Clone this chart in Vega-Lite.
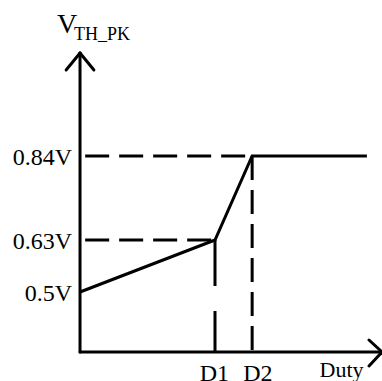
{
  "$schema": "https://vega.github.io/schema/vega-lite/v6.json",
  "width": 382,
  "height": 381,
  "padding": 0,
  "autosize": {"type": "none"},
  "background": "white",
  "config": {"view": {"stroke": null}},
  "datasets": {
    "axes": [
      {"x": 0, "y": 0.35, "x2": 0, "y2": 1.0975},
      {"x": -0.046, "y": 1.055, "x2": 0, "y2": 1.0975},
      {"x": 0.046, "y": 1.055, "x2": 0, "y2": 1.0975},
      {"x": 0, "y": 0.35, "x2": 1.0, "y2": 0.35},
      {"x": 0.957, "y": 0.38, "x2": 1.0, "y2": 0.35},
      {"x": 0.957, "y": 0.315, "x2": 1.0, "y2": 0.35}
    ],
    "curve": [
      {"duty": 0, "v": 0.5},
      {"duty": 0.447, "v": 0.63},
      {"duty": 0.57, "v": 0.84},
      {"duty": 0.95, "v": 0.84}
    ],
    "guides": [
      {"kind": "h", "x": 0.017, "y": 0.84, "x2": 0.57, "y2": 0.84},
      {"kind": "h", "x": 0.017, "y": 0.63, "x2": 0.447, "y2": 0.63},
      {"kind": "d2", "x": 0.57, "y": 0.84, "x2": 0.57, "y2": 0.35},
      {"kind": "d1", "x": 0.447, "y": 0.63, "x2": 0.447, "y2": 0.35}
    ],
    "ylabels": [
      {"v": 0.84, "label": "0.84V"},
      {"v": 0.63, "label": "0.63V"},
      {"v": 0.5, "label": "0.5V"}
    ],
    "xlabels": [
      {"duty": 0.445, "label": "D1"},
      {"duty": 0.589, "label": "D2"}
    ]
  },
  "layer": [
    {
      "data": {"name": "axes"},
      "mark": {"type": "rule", "color": "black", "strokeWidth": 3, "strokeCap": "round"},
      "encoding": {
        "x": {"field": "x", "type": "quantitative", "scale": {"domain": [-0.265, 1.0], "nice": false, "zero": false}, "axis": null},
        "y": {"field": "y", "type": "quantitative", "scale": {"domain": [0.2775, 1.23], "nice": false, "zero": false}, "axis": null},
        "x2": {"field": "x2"},
        "y2": {"field": "y2"}
      }
    },
    {
      "data": {"name": "guides"},
      "transform": [{"filter": "datum.kind != 'd1'"}],
      "mark": {"type": "rule", "color": "black", "strokeWidth": 3, "strokeDash": [24, 10]},
      "encoding": {
        "x": {"field": "x", "type": "quantitative"},
        "y": {"field": "y", "type": "quantitative"},
        "x2": {"field": "x2"},
        "y2": {"field": "y2"}
      }
    },
    {
      "data": {"name": "guides"},
      "transform": [{"filter": "datum.kind == 'd1'"}],
      "mark": {"type": "rule", "color": "black", "strokeWidth": 3, "strokeDash": [46, 25]},
      "encoding": {
        "x": {"field": "x", "type": "quantitative"},
        "y": {"field": "y", "type": "quantitative"},
        "x2": {"field": "x2"},
        "y2": {"field": "y2"}
      }
    },
    {
      "data": {"name": "curve"},
      "mark": {"type": "line", "color": "black", "strokeWidth": 3, "strokeJoin": "miter"},
      "encoding": {
        "x": {"field": "duty", "type": "quantitative"},
        "y": {"field": "v", "type": "quantitative"}
      }
    },
    {
      "data": {"name": "ylabels"},
      "mark": {"type": "text", "font": "Liberation Serif", "fontSize": 24, "align": "right", "baseline": "middle", "dx": -8, "dy": 2, "color": "black"},
      "encoding": {
        "x": {"datum": 0, "type": "quantitative"},
        "y": {"field": "v", "type": "quantitative"},
        "text": {"field": "label"}
      }
    },
    {
      "data": {"name": "xlabels"},
      "mark": {"type": "text", "font": "Liberation Serif", "fontSize": 24, "align": "center", "baseline": "alphabetic", "dy": 29, "color": "black"},
      "encoding": {
        "x": {"field": "duty", "type": "quantitative"},
        "y": {"datum": 0.35, "type": "quantitative"},
        "text": {"field": "label"}
      }
    },
    {
      "data": {"values": [{"duty": 0.866, "v": 0.2875, "label": "Duty"}]},
      "mark": {"type": "text", "font": "Liberation Serif", "fontSize": 22, "align": "center", "baseline": "alphabetic", "color": "black"},
      "encoding": {
        "x": {"field": "duty", "type": "quantitative"},
        "y": {"field": "v", "type": "quantitative"},
        "text": {"field": "label"}
      }
    },
    {
      "data": {"values": [{"duty": -0.076, "v": 1.1475, "label": "V"}]},
      "mark": {"type": "text", "font": "Liberation Serif", "fontSize": 28, "align": "left", "baseline": "alphabetic", "color": "black"},
      "encoding": {
        "x": {"field": "duty", "type": "quantitative"},
        "y": {"field": "v", "type": "quantitative"},
        "text": {"field": "label"}
      }
    },
    {
      "data": {"values": [{"duty": -0.02, "v": 1.13, "label": "TH_PK"}]},
      "mark": {"type": "text", "font": "Liberation Serif", "fontSize": 18, "align": "left", "baseline": "alphabetic", "color": "black"},
      "encoding": {
        "x": {"field": "duty", "type": "quantitative"},
        "y": {"field": "v", "type": "quantitative"},
        "text": {"field": "label"}
      }
    }
  ]
}
